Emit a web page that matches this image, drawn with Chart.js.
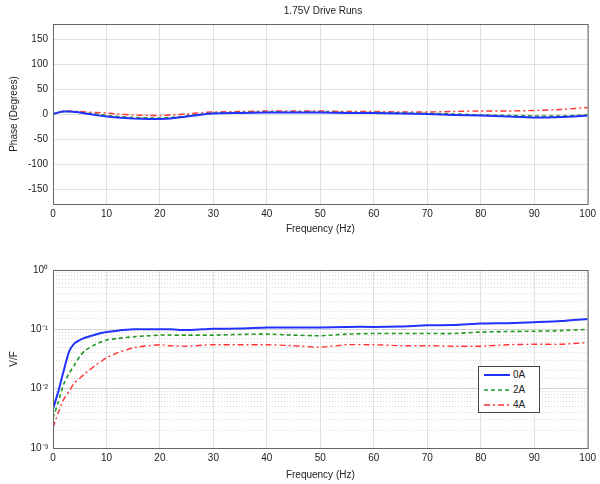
<!DOCTYPE html>
<html lang="en">
<head>
    <meta charset="UTF-8">
    <title>1.75V Drive Runs</title>
    <script src="https://cdn.jsdelivr.net/npm/chart.js"></script>
    <style>
        body {
            margin: 0;
            background: #fff;
            font-family: 'Liberation Sans', Arial, sans-serif;
        }
        #wrap {
            position: relative;
            width: 600px;
            height: 484px;
        }
        #title {
            position: absolute;
            left: 53px;
            width: 540px;
            top: 5px;
            text-align: center;
            font-size: 10px;
            color: #222;
        }
        #phaseBox { position: absolute; left: 0; top: 0; width: 600px; height: 240px; }
        #magBox { position: absolute; left: 0; top: 240px; width: 600px; height: 244px; }
        #legend {
            position: absolute;
            left: 478px;
            top: 366px;
            width: 60px;
            height: 45px;
            border: 1px solid #444;
            background: #fff;
            font-size: 10px;
            color: #222;
        }
        #legend div { height: 14px; line-height: 14px; margin-top: 1px; }
        #legend svg { vertical-align: middle; margin: 0 3px 0 5px; }
    </style>
</head>
<body>
<div id="wrap">
    <div id="phaseBox"><canvas id="phaseChart" width="600" height="240"></canvas></div>
    <div id="magBox"><canvas id="magChart" width="600" height="244"></canvas></div>
    <div id="title">1.75V Drive Runs</div>
    <div id="legend"></div>
</div>

<script>
    const freq = [0, 1, 2, 3, 4, 5, 6, 8, 10, 12, 15, 18, 20, 22, 25, 28, 30, 35, 40, 45, 50, 55, 60, 65, 70, 75, 80, 85, 90, 95, 100];

    const phase0A = [0, 3, 5, 5, 4, 3, 1, -2, -5, -7, -9, -10, -10, -9, -5, -1, 1, 2, 3, 3, 3, 2, 2, 1, 0, -2, -3, -5, -7, -6, -3];
    const phase2A = [0, 3, 5, 5, 4, 3, 2, 0, -3, -5, -7, -8, -8, -7, -4, 0, 2, 3, 4, 4, 4, 3, 3, 2, 1, 0, -2, -3, -4, -4, -2];
    const phase4A = [0, 3, 6, 6, 5, 5, 4, 3, 2, 0, -2, -3, -3, -2, 0, 3, 4, 5, 6, 6, 6, 5, 5, 4, 4, 5, 6, 6, 7, 9, 13];

    const mag0A = [0.0045, 0.009, 0.02, 0.042, 0.058, 0.066, 0.072, 0.082, 0.09, 0.095, 0.1, 0.1, 0.1, 0.1, 0.097, 0.1, 0.102, 0.103, 0.107, 0.107, 0.107, 0.11, 0.11, 0.112, 0.117, 0.118, 0.125, 0.127, 0.132, 0.138, 0.15];
    const mag2A = [0.0032, 0.006, 0.012, 0.018, 0.025, 0.035, 0.044, 0.056, 0.066, 0.07, 0.075, 0.078, 0.08, 0.08, 0.08, 0.08, 0.08, 0.082, 0.083, 0.08, 0.078, 0.083, 0.085, 0.085, 0.085, 0.085, 0.09, 0.092, 0.093, 0.095, 0.1];
    const mag4A = [0.0022, 0.004, 0.0066, 0.009, 0.0125, 0.015, 0.018, 0.025, 0.033, 0.04, 0.049, 0.053, 0.055, 0.053, 0.052, 0.054, 0.055, 0.055, 0.055, 0.053, 0.05, 0.055, 0.055, 0.053, 0.053, 0.052, 0.052, 0.055, 0.056, 0.056, 0.06];

    const seriesNames = ['0A', '2A', '4A'];
    const phaseTicks = [-150, -100, -50, 0, 50, 100, 150];
    const magTickLabels = { '-3': '10\u207B\u00B3', '-2': '10\u207B\u00B2', '-1': '10\u207B\u00B9', '0': '10\u2070' };

    const styles = [
        { color: '#2233ff', dash: [], width: 2 },
        { color: '#229922', dash: [4, 3], width: 1.6 },
        { color: '#ff3333', dash: [6, 3, 2, 3], width: 1.4 }
    ];

    const fontSpec = { family: "'Liberation Sans', Arial, sans-serif", size: 10 };
    Chart.defaults.color = '#222';
    Chart.defaults.font = fontSpec;

    function pts(ys) {
        return freq.map((f, i) => ({ x: f, y: ys[i] }));
    }

    function makeSets(list) {
        return list.map((ys, i) => ({
            label: seriesNames[i],
            data: pts(ys),
            borderColor: styles[i].color,
            borderDash: styles[i].dash,
            borderWidth: styles[i].width,
            pointRadius: 0,
            tension: 0.2,
            fill: false
        }));
    }

    // box around the axes, like the original plot frame
    const frame = {
        id: 'frame',
        afterDraw(chart) {
            const a = chart.chartArea, c = chart.ctx;
            c.save();
            c.strokeStyle = '#666';
            c.lineWidth = 1;
            c.strokeRect(a.left + 0.5, a.top + 0.5, a.right - a.left, a.bottom - a.top);
            c.restore();
        }
    };

    function xScale(padBottom) {
        return {
            type: 'linear',
            min: 0,
            max: 100,
            ticks: { stepSize: 10, padding: 4, maxRotation: 0 },
            grid: { color: '#e0e0e0', drawTicks: false },
            border: { display: false },
            title: { display: true, text: 'Frequency (Hz)', padding: { top: 1, bottom: padBottom } },
            afterFit(s) { s.height = 36; }
        };
    }

    new Chart(document.getElementById('phaseChart'), {
        type: 'line',
        data: { datasets: makeSets([phase0A, phase2A, phase4A]) },
        options: {
            responsive: false,
            animation: false,
            layout: { padding: { top: 24, right: 7, left: 0, bottom: 0 } },
            plugins: { legend: { display: false }, tooltip: { enabled: false } },
            scales: {
                x: xScale(5),
                y: {
                    min: -180,
                    max: 180,
                    afterBuildTicks(s) { s.ticks = phaseTicks.map(v => ({ value: v })); },
                    ticks: { padding: 5 },
                    grid: { color: '#e0e0e0', drawTicks: false },
                    border: { display: false },
                    title: { display: true, text: 'Phase (Degrees)', padding: { top: 8, bottom: 0 } },
                    afterFit(s) { s.width = 53; }
                }
            }
        },
        plugins: [frame]
    });

    function isMajor(v) {
        const l = Math.log10(v);
        return Math.abs(l - Math.round(l)) < 1e-6;
    }

    new Chart(document.getElementById('magChart'), {
        type: 'line',
        data: { datasets: makeSets([mag0A, mag2A, mag4A]) },
        options: {
            responsive: false,
            animation: false,
            layout: { padding: { top: 30, right: 7, left: 0, bottom: 0 } },
            plugins: { legend: { display: false }, tooltip: { enabled: false } },
            scales: {
                x: xScale(3),
                y: {
                    type: 'logarithmic',
                    min: 0.001,
                    max: 1,
                    ticks: {
                        autoSkip: false,
                        padding: 5,
                        callback(v) {
                            if (!isMajor(v)) return '';
                            return magTickLabels[String(Math.round(Math.log10(v)))];
                        }
                    },
                    grid: {
                        color: ctx => isMajor(ctx.tick.value) ? '#d4d4d4' : '#d8d8d8',
                        drawTicks: false
                    },
                    border: {
                        display: false,
                        dash: ctx => (ctx.tick && !isMajor(ctx.tick.value)) ? [1, 2] : []
                    },
                    title: { display: true, text: 'V/F', padding: { top: 8, bottom: 0 } },
                    afterFit(s) { s.width = 53; }
                }
            }
        },
        plugins: [frame]
    });

    // legend drawn as html, placed inside the lower axes
    const legend = document.getElementById('legend');
    seriesNames.forEach((name, i) => {
        const st = styles[i];
        const row = document.createElement('div');
        row.innerHTML = '<svg width="26" height="6"><line x1="0" y1="3" x2="26" y2="3" stroke="' + st.color +
            '" stroke-width="' + st.width + '" stroke-dasharray="' + (st.dash.length ? st.dash.join(' ') : 'none') +
            '"/></svg>' + name;
        legend.appendChild(row);
    });
</script>
</body>
</html>
